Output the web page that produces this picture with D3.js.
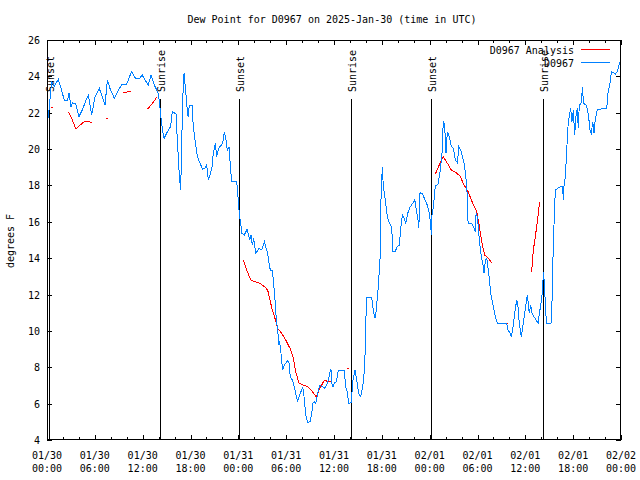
<!DOCTYPE html>
<html><head><meta charset="utf-8">
<script src="https://cdn.jsdelivr.net/npm/d3@7"></script>
<style>
html,body{margin:0;padding:0;background:#fff;}
text{font-family:"DejaVu Sans Mono",monospace;font-size:10px;fill:#000;}
</style></head>
<body><svg id="c" width="640" height="480"></svg>
<script>
// ---- data (hours since 2025-01-30 00:00 UTC) ----
const obsHours = [0.17,0.3,0.58,0.92,1.42,1.76,2.17,2.59,2.76,3.01,3.18,3.6,4.01,4.43,4.98,5.19,5.6,6.02,6.56,6.85,7.28,7.57,7.9,8.45,8.95,9.45,10.0,10.6,11.1,11.6,11.95,12.3,12.7,13.05,13.46,13.96,14.17,14.3,14.46,14.68,15.0,15.5,15.72,16.18,16.35,16.6,16.77,16.9,17.02,17.19,17.35,17.52,17.69,17.85,18.2,18.35,18.57,18.86,19.19,19.53,19.82,20.03,20.24,20.45,20.7,20.86,21.11,21.28,21.53,22.03,22.24,22.45,22.62,22.83,23.04,23.17,23.8,23.96,24.12,24.45,24.75,25.09,25.43,25.59,25.76,25.93,26.18,26.6,26.93,27.26,27.43,27.68,27.85,28.01,28.26,28.43,28.6,28.77,28.94,29.06,29.18,29.35,29.56,29.77,29.98,30.19,30.36,30.52,30.77,31.02,31.19,31.44,31.61,31.86,32.07,32.2,32.36,32.53,32.74,32.99,33.2,33.37,33.53,33.7,33.87,34.04,34.25,34.54,34.79,35.08,35.29,35.46,35.62,35.71,35.87,36.04,36.29,36.54,37.29,37.47,37.72,37.8,38.17,38.34,38.63,38.84,39.09,39.35,39.6,39.76,39.89,40.01,40.1,40.73,40.93,41.14,41.27,41.52,41.77,41.9,42.06,42.19,42.44,42.69,42.94,43.24,43.37,43.65,43.94,44.19,44.4,44.57,44.78,44.99,45.25,45.53,45.87,46.12,46.29,46.54,46.62,46.7,46.79,47.12,47.42,47.7,47.96,48.13,48.21,48.29,48.46,48.71,49.04,49.3,49.55,49.71,49.88,50.05,50.22,50.47,50.72,50.97,51.22,51.48,51.65,51.9,52.07,52.32,52.48,52.66,52.82,53.24,53.49,53.74,53.82,53.99,54.16,54.32,54.49,54.66,54.82,54.99,55.16,55.41,55.66,55.99,56.24,56.5,57.66,57.83,58.08,58.24,58.41,58.66,58.92,59.08,59.24,59.5,59.67,59.92,60.09,60.25,60.5,60.68,60.84,61.09,61.35,61.6,61.76,61.94,62.1,62.19,62.26,62.35,62.47,62.6,62.68,63.22,63.34,63.51,63.76,64.26,64.68,64.76,64.85,65.02,65.19,65.35,65.52,65.69,65.85,66.02,66.19,66.35,66.52,66.64,66.77,66.98,67.19,67.27,67.61,67.77,67.94,68.11,68.28,68.45,68.61,68.78,69.03,69.2,70.21,70.37,70.62,70.79,71.04,71.3,71.55,71.73,71.89];
const obsValues = [21.7,22.4,23.71,23.47,23.84,23.34,22.7,22.7,23.1,22.33,22.55,22.48,21.78,22.15,22.79,22.97,21.87,22.88,23.34,22.97,22.42,23.8,23.34,22.79,23.25,23.58,23.58,24.26,23.89,23.89,24.07,23.8,23.52,24.07,23.52,23.07,22.3,21.7,21.14,20.59,20.87,21.23,22.06,21.93,20.5,18.57,17.75,20.32,22.7,24.17,23.43,22.52,21.78,22.42,22.42,21.23,20.5,19.58,19.22,18.89,18.94,19.12,18.3,18.57,19.03,19.77,20.32,19.58,20.04,20.32,20.96,20.5,19.95,20.13,18.85,18.2,18.2,17.38,16.47,15.37,15.27,15.59,15.0,15.27,14.72,15.09,14.27,14.54,14.45,14.91,14.63,14.27,13.72,13.35,13.35,12.62,11.7,10.6,10.05,9.32,9.41,8.77,7.85,8.12,8.25,8.36,8.22,7.48,7.3,6.93,6.57,6.11,6.38,6.66,6.93,6.57,5.83,5.19,4.95,5.01,5.47,6.02,6.11,6.02,6.38,6.75,7.02,6.93,6.84,7.02,7.3,7.67,7.89,7.12,6.93,7.12,7.21,7.85,7.85,6.93,6.57,6.02,6.05,7.21,7.85,7.3,6.57,6.38,6.93,7.57,8.67,10.78,11.85,11.85,11.15,10.69,11.06,12.25,13.9,17.29,19.0,17.93,17.2,16.28,15.92,15.73,14.36,14.36,14.63,14.72,15.73,16.37,16.19,15.92,16.47,16.8,17.02,17.24,16.74,16.1,15.64,16.28,17.6,17.53,17.2,16.92,16.47,15.82,15.27,16.37,16.83,17.97,18.06,18.76,19.77,21.56,21.32,19.77,20.96,20.68,20.13,20.04,19.4,19.25,20.13,19.95,19.67,19.22,18.67,17.93,15.92,15.92,15.73,15.46,16.47,16.28,15.37,14.63,14.08,13.72,13.17,13.9,13.99,13.17,12.07,11.34,10.78,10.42,10.42,10.05,9.87,9.65,10.05,10.97,11.7,11.34,10.42,9.65,10.23,10.97,11.52,11.98,10.97,11.43,10.97,10.78,10.6,10.42,10.97,11.43,11.98,12.44,13.26,12.8,11.88,10.78,10.42,10.42,11.52,14.82,17.75,17.9,17.97,17.2,17.97,18.48,19.95,21.23,21.87,22.24,21.51,22.15,20.77,21.78,22.24,21.14,22.42,22.52,23.43,22.52,22.42,22.24,21.78,21.05,20.87,21.51,20.87,21.65,22.15,22.19,22.24,23.07,23.62,24.26,24.2,24.13,24.26,24.62,24.8];

// analysis (null = gap)
const anaHours = [0.67,null,2.68,3.18,3.64,4.14,4.68,5.1,5.69,null,7.5,null,9.57,10.1,10.6,null,12.6,13.2,13.76,null,24.63,25.05,25.55,26.09,26.72,27.35,27.68,27.97,28.26,28.6,28.94,29.44,29.94,30.48,30.9,31.19,31.61,32.15,32.7,33.12,33.45,33.78,34.12,34.46,34.79,35.21,35.62,35.79,null,37.8,null,48.71,49.3,49.71,50.22,50.72,51.31,51.81,52.32,52.82,53.32,53.9,54.24,54.57,54.9,55.36,55.78,null,57.75,null,60.8,61.0,61.2,61.42,61.63,61.8];
const anaValues = [22.3,null,22.06,21.6,21.09,21.32,21.51,21.51,21.47,null,21.69,null,23.1,23.15,23.2,null,22.19,22.5,22.85,null,13.9,13.35,12.8,12.71,12.62,12.4,12.25,11.7,11.15,10.69,10.14,9.87,9.5,9.04,8.49,7.76,7.12,7.02,6.93,6.75,6.57,6.38,6.75,7.02,7.3,7.21,7.21,7.12,null,7.94,null,18.63,19.22,19.58,19.22,18.85,18.7,18.52,18.02,17.66,17.11,16.56,15.73,14.82,14.17,13.99,13.75,null,10.45,null,13.26,14.45,15.0,15.73,16.47,17.11];

const sunHours = [0.2,14.17,24.08,38.13,48.17,62.22];
const sunLabels = ["Sunset","Sunrise","Sunset","Sunrise","Sunset","Sunrise"];

const xTickHours = [0,6,12,18,24,30,36,42,48,54,60,66,72];
const xTickDates = ["01/30","01/30","01/30","01/30","01/31","01/31","01/31","01/31","02/01","02/01","02/01","02/01","02/02"];
const xTickTimes = ["00:00","06:00","12:00","18:00","00:00","06:00","12:00","18:00","00:00","06:00","12:00","18:00","00:00"];
const yTicks = [4,6,8,10,12,14,16,18,20,22,24,26];

const seriesNames = ["D0967 Analysis","D0967"];
const seriesColors = ["#ff0000","#0080ff"];
const titleText = "Dew Point for D0967 on 2025-Jan-30 (time in UTC)";
const yLabel = "degrees F";

// ---- layout ----
const L=47, T=40, R=621, B=440;
const svg = d3.select("#c");
const x = d3.scaleLinear().domain([0,72]).range([L,R]);
const y = d3.scaleLinear().domain([4,26]).range([B,T]);

svg.append("text").attr("x",332).attr("y",23).attr("text-anchor","middle").text(titleText);

// axes ticks
const minorHours = d3.range(0,73,2).filter(h=>h%6!==0);
function ticks(g, vals, len, orient){
  vals.forEach(v=>{
    if(orient==="bottom"){const px=Math.round(x(v))+0.5; g.append("line").attr("x1",px).attr("x2",px).attr("y1",B).attr("y2",B-len);}
    if(orient==="top"){const px=Math.round(x(v))+0.5; g.append("line").attr("x1",px).attr("x2",px).attr("y1",T).attr("y2",T+len);}
    if(orient==="left"){const py=Math.round(y(v))+0.5; g.append("line").attr("x1",L).attr("x2",L+len).attr("y1",py).attr("y2",py);}
    if(orient==="right"){const py=Math.round(y(v))+0.5; g.append("line").attr("x1",R).attr("x2",R-len).attr("y1",py).attr("y2",py);}
  });
}
const tg = svg.append("g").attr("stroke","#000").attr("stroke-width",1).attr("shape-rendering","crispEdges");
ticks(tg, xTickHours, 5, "bottom"); ticks(tg, xTickHours, 5, "top");
ticks(tg, minorHours, 3, "bottom"); ticks(tg, minorHours, 3, "top");
ticks(tg, yTicks, 5, "left"); ticks(tg, yTicks, 5, "right");

// tick labels
const xl = svg.append("g");
xTickHours.forEach((h,i)=>{
  xl.append("text").attr("x",x(h)).attr("y",459).attr("text-anchor","middle").text(xTickDates[i]);
  xl.append("text").attr("x",x(h)).attr("y",472).attr("text-anchor","middle").text(xTickTimes[i]);
});
yTicks.forEach(v=>{
  svg.append("text").attr("x",40).attr("y",y(v)+4).attr("text-anchor","end").text(v);
});
svg.append("text").attr("transform","translate(14,241) rotate(-90)").attr("text-anchor","middle").text(yLabel);

// sun lines
sunHours.forEach((h,i)=>{
  const px=Math.round(x(h))+0.5;
  svg.append("line").attr("x1",px).attr("x2",px).attr("y1",B).attr("y2",99)
    .attr("stroke","#000").attr("stroke-width",1).attr("shape-rendering","crispEdges");
  svg.append("text").attr("transform",`translate(${px+4.5},92) rotate(-90)`).attr("text-anchor","start").text(sunLabels[i]);
});

// data lines
const obs = obsHours.map((h,i)=>[h,obsValues[i]]);
const ana = anaHours.map((h,i)=>[h,anaValues[i]]);
const line = d3.line().defined(d=>d[0]!==null && d[1]!==null).x(d=>x(d[0])).y(d=>y(d[1]));
svg.append("path").datum(ana).attr("d",line).attr("fill","none").attr("stroke",seriesColors[0]).attr("stroke-width",1).attr("shape-rendering","crispEdges");
ana.forEach((d,i)=>{
  if(d[0]===null) return;
  const prev = ana[i-1], next = ana[i+1];
  if((!prev||prev[0]===null)&&(!next||next[0]===null)){
    svg.append("rect").attr("x",Math.round(x(d[0]))-1).attr("y",Math.round(y(d[1]))).attr("width",2).attr("height",1).attr("fill",seriesColors[0]);
  }
});
svg.append("path").datum(obs).attr("d",line).attr("fill","none").attr("stroke",seriesColors[1]).attr("stroke-width",1).attr("shape-rendering","crispEdges");

// frame
svg.append("rect").attr("x",L+0.5).attr("y",T+0.5).attr("width",R-L-1).attr("height",B-T-1)
  .attr("fill","none").attr("stroke","#000").attr("shape-rendering","crispEdges");

// legend
const legY=[50,63];
seriesNames.forEach((n,i)=>{
  svg.append("text").attr("x",574).attr("y",legY[i]+4).attr("text-anchor","end").text(n);
  svg.append("line").attr("x1",581).attr("x2",610).attr("y1",legY[i]-0.5).attr("y2",legY[i]-0.5)
    .attr("stroke",seriesColors[i]).attr("stroke-width",1).attr("shape-rendering","crispEdges");
});
</script></body></html>
